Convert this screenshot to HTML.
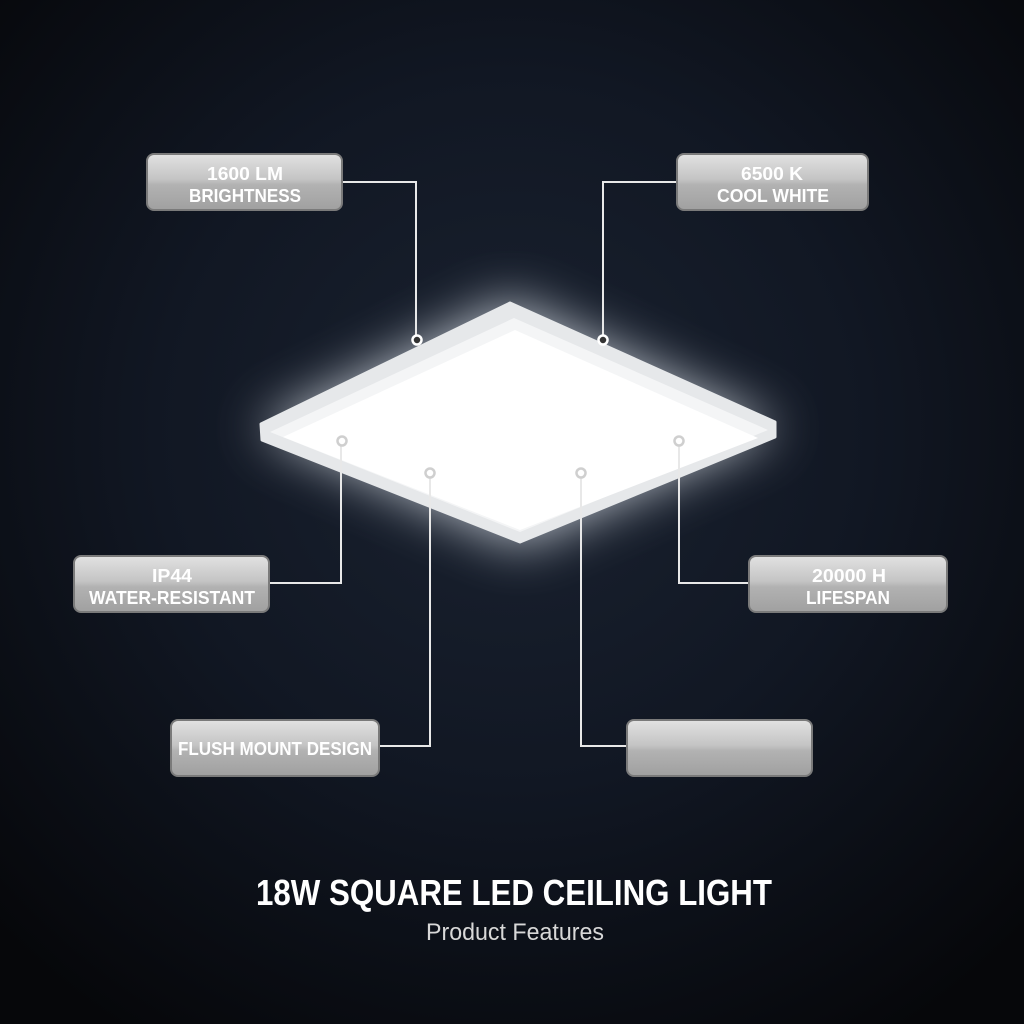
<!DOCTYPE html>
<html><head><meta charset="utf-8"><style>
html,body{margin:0;padding:0;background:#0b0e14;}
svg{display:block}
text{font-family:"Liberation Sans",sans-serif;}
</style></head><body>
<svg width="1024" height="1024" viewBox="0 0 1024 1024" xmlns="http://www.w3.org/2000/svg">
<defs>
<radialGradient id="bg" cx="50%" cy="42%" r="70%">
<stop offset="0" stop-color="#1a2230"/>
<stop offset="0.5" stop-color="#111723"/>
<stop offset="1" stop-color="#06070a"/>
</radialGradient>
<linearGradient id="box" x1="0" y1="0" x2="0" y2="1">
<stop offset="0" stop-color="#e2e2e2"/>
<stop offset="0.45" stop-color="#c4c4c4"/>
<stop offset="0.55" stop-color="#b2b2b2"/>
<stop offset="1" stop-color="#a0a0a0"/>
</linearGradient>
<filter id="glow" x="-50%" y="-50%" width="200%" height="200%">
<feGaussianBlur stdDeviation="26"/>
</filter>
</defs>
<rect width="1024" height="1024" fill="url(#bg)"/>
<polygon points="510,300 780,428 520,546 256,428" fill="#e4eaf2" opacity="0.8" filter="url(#glow)"/>
<polygon points="510,303 775,422 775,437 520,542 262,440 261,424" fill="#e6e8ea" stroke="#e6e8ea" stroke-width="3" stroke-linejoin="round"/>
<polygon points="514,318 768,430 520,532 270,432" fill="#f4f5f6"/>
<polygon points="515,330 758,438 520,530 283,437" fill="#ffffff"/>
<g fill="none" stroke="#e8e8e8" stroke-width="2">
<polyline points="342,182 416,182 416,336"/>
<polyline points="677,182 603,182 603,336"/>
<polyline points="269,583 341,583 341,446"/>
<polyline points="749,583 679,583 679,446"/>
<polyline points="379,746 430,746 430,478"/>
<polyline points="627,746 581,746 581,478"/>
</g>
<g fill="none" stroke-width="2.5">
<circle cx="417" cy="340" r="4.5" stroke="#ffffff" fill="#333"/>
<circle cx="603" cy="340" r="4.5" stroke="#ffffff" fill="#333"/>
<circle cx="342" cy="441" r="4.5" stroke="#cfcfcf"/>
<circle cx="679" cy="441" r="4.5" stroke="#cfcfcf"/>
<circle cx="430" cy="473" r="4.5" stroke="#cfcfcf"/>
<circle cx="581" cy="473" r="4.5" stroke="#cfcfcf"/>
</g>
<g stroke="#7a7a7a" stroke-width="2" fill="url(#box)">
<rect x="147" y="154" width="195" height="56" rx="7"/>
<rect x="677" y="154" width="191" height="56" rx="7"/>
<rect x="74" y="556" width="195" height="56" rx="7"/>
<rect x="749" y="556" width="198" height="56" rx="7"/>
<rect x="171" y="720" width="208" height="56" rx="7"/>
<rect x="627" y="720" width="185" height="56" rx="7"/>
</g>
<g fill="#ffffff" font-size="18" text-anchor="middle" font-weight="bold">
<text x="245" y="180" textLength="76" lengthAdjust="spacingAndGlyphs">1600 LM</text>
<text x="245" y="202" textLength="112" lengthAdjust="spacingAndGlyphs">BRIGHTNESS</text>
<text x="772" y="180" textLength="62" lengthAdjust="spacingAndGlyphs">6500 K</text>
<text x="773" y="202" textLength="112" lengthAdjust="spacingAndGlyphs">COOL WHITE</text>
<text x="172" y="582" textLength="40" lengthAdjust="spacingAndGlyphs">IP44</text>
<text x="172" y="604" textLength="166" lengthAdjust="spacingAndGlyphs">WATER-RESISTANT</text>
<text x="849" y="582" textLength="74" lengthAdjust="spacingAndGlyphs">20000 H</text>
<text x="848" y="604" textLength="84" lengthAdjust="spacingAndGlyphs">LIFESPAN</text>
<text x="275" y="755" textLength="194" lengthAdjust="spacingAndGlyphs">FLUSH MOUNT DESIGN</text>
</g>
<text x="514" y="905" fill="#ffffff" font-size="36" font-weight="bold" text-anchor="middle" textLength="516" lengthAdjust="spacingAndGlyphs">18W SQUARE LED CEILING LIGHT</text>
<text x="515" y="940" fill="#d8d8d8" font-size="24" text-anchor="middle" textLength="178" lengthAdjust="spacingAndGlyphs">Product Features</text>
</svg>
</body></html>
